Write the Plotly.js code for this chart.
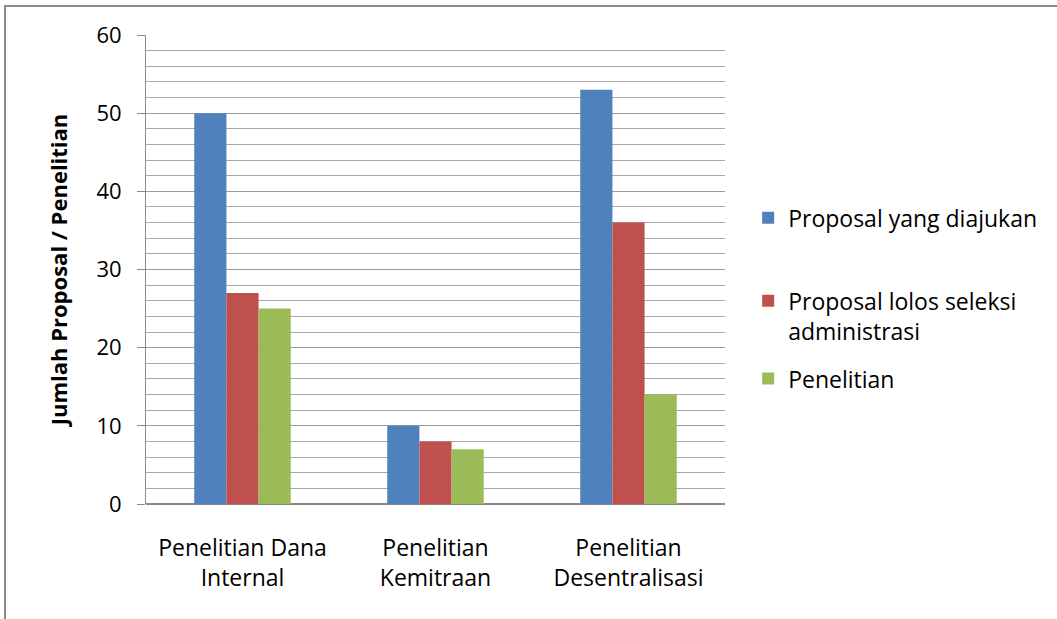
<!DOCTYPE html>
<html>
<head>
<meta charset="utf-8">
<script src="https://cdn.plot.ly/plotly-3.0.1.min.js"></script>
<style>
html,body{margin:0;padding:0;background:#fff;overflow:hidden;}
#wrap{position:relative;width:1057px;height:619px;}
#chart{position:absolute;left:0;top:0;width:1057px;height:619px;}
#frame{position:absolute;left:4px;top:5px;width:1200px;height:800px;border-left:2px solid #8a8a8a;border-top:2px solid #8a8a8a;pointer-events:none;}
</style>
</head>
<body>
<div id="wrap"><div id="chart"></div><div id="frame"></div></div>
<script>
const categories = ["Penelitian Dana<br>Internal", "Penelitian<br>Kemitraan", "Penelitian<br>Desentralisasi"];
const seriesNames = ["Proposal yang diajukan", "Proposal lolos seleksi<br>administrasi", "Penelitian"];
const proposalDiajukan = [50, 10, 53];
const proposalLolos = [27, 8, 36];
const penelitian = [25, 7, 14];
const yTickValues = [0, 10, 20, 30, 40, 50, 60];
const yTitle = "Jumlah Proposal / Penelitian";

const colors = ["#4F81BD", "#C0504D", "#9BBB59"];
const FONT = "'Open Sans', sans-serif";

const traces = [
  {type: "bar", name: seriesNames[0], x: categories, y: proposalDiajukan, marker: {color: colors[0]}, legend: "legend", legendgroup: "a"},
  {type: "bar", name: seriesNames[1], x: categories, y: proposalLolos, marker: {color: colors[1]}, legend: "legend2", legendgroup: "b"},
  {type: "bar", name: seriesNames[2], x: categories, y: penelitian, marker: {color: colors[2]}, legend: "legend2", legendgroup: "c"}
];

const legendFont = {family: FONT, size: 23, color: "#000"};
const layout = {
  width: 1057, height: 619,
  margin: {l: 146, r: 332, t: 35, b: 115},
  paper_bgcolor: "rgba(0,0,0,0)",
  plot_bgcolor: "#fff",
  barmode: "group",
  bargap: 0.5,
  bargroupgap: 0,
  showlegend: true,
  font: {family: FONT, size: 20, color: "#000"},
  xaxis: {
    type: "category",
    showline: false,
    ticks: "",
    ticklabelstandoff: 28,
    tickfont: {family: FONT, size: 23, color: "#000"},
    fixedrange: true
  },
  yaxis: {
    range: [0, 60],
    tickvals: yTickValues,
    ticktext: yTickValues.map(String),
    showline: true, linecolor: "#8a8a8a", linewidth: 1,
    ticks: "outside", ticklen: 8, tickcolor: "#8a8a8a",
    ticklabelstandoff: 11,
    showgrid: true, gridcolor: "#9a9a9a", gridwidth: 1,
    zeroline: true, zerolinecolor: "#8a8a8a", zerolinewidth: 1.5,
    minor: {dtick: 2, showgrid: true, gridcolor: "#a8a8a8", gridwidth: 1, ticks: ""},
    tickfont: {family: FONT, size: 22, color: "#000"},
    title: {text: yTitle, font: {family: FONT, size: 22, color: "#000", weight: "bold"}, standoff: 22},
    fixedrange: true
  },
  legend: {
    x: 1.04, xanchor: "left", y: 0.61, yanchor: "middle",
    font: legendFont, bgcolor: "rgba(0,0,0,0)", borderwidth: 0
  },
  legend2: {
    x: 1.04, xanchor: "left", y: 0.479, yanchor: "top",
    font: legendFont, bgcolor: "rgba(0,0,0,0)", borderwidth: 0,
    valign: "top", tracegroupgap: 15
  }
};

Plotly.newPlot("chart", traces, layout, {displayModeBar: false, staticPlot: true});
</script>
</body>
</html>
